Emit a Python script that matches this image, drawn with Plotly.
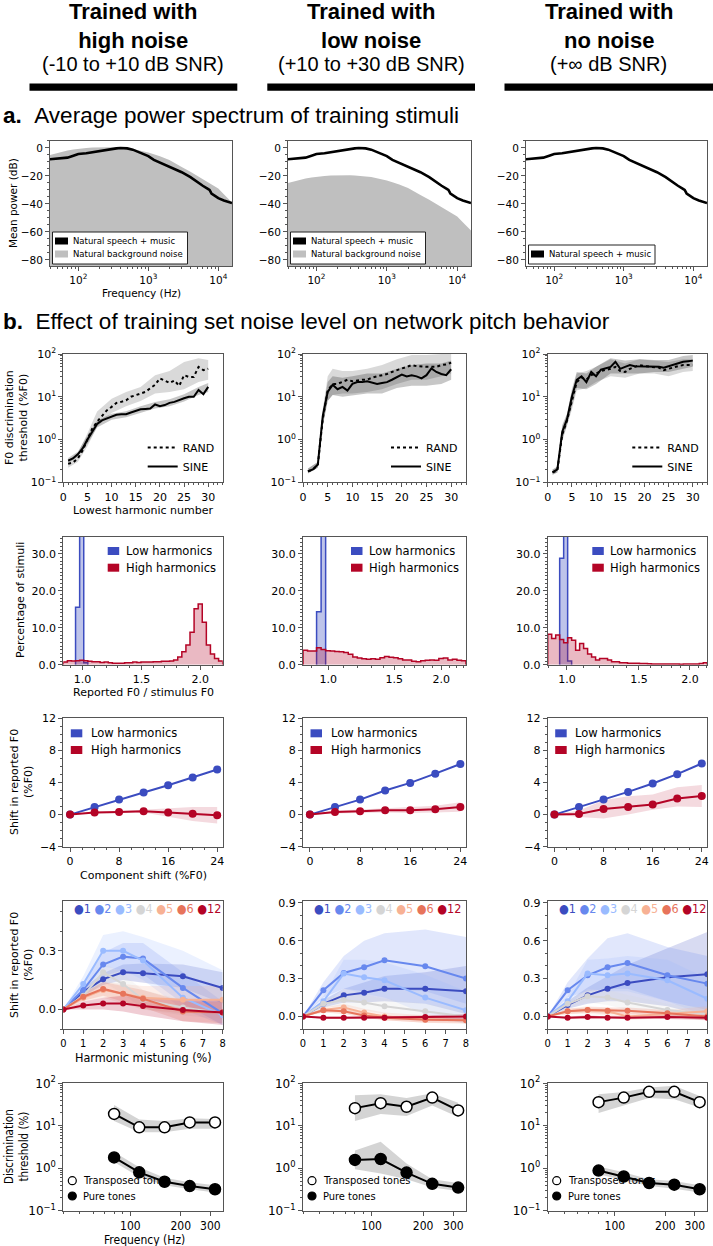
import numpy as np
import plotly.graph_objects as go

W, H = 713, 1246
SANS = "DejaVu Sans"
COND = "DejaVu Sans Condensed, Liberation Sans Narrow, DejaVu Sans"
HEAD = "Liberation Sans, Arial, Helvetica, sans-serif"
SPINE = "#555555"
BLUE = "#3b4cc0"
RED = "#b40426"

# ====================== TEXT ======================
COL_TITLE_BOLD = ["Trained with<br>high noise", "Trained with<br>low noise", "Trained with<br>no noise"]
COL_TITLE_SNR = ["(-10 to +10 dB SNR)", "(+10 to +30 dB SNR)", "(+\u221e dB SNR)"]
SECTION_A = "Average power spectrum of training stimuli"
SECTION_B = "Effect of training set noise level on network pitch behavior"

# ====================== (a) spectra ======================
SPEC_FREQ_HZ = [39, 50, 60, 70, 85, 100, 130, 160, 200, 250, 300, 350, 400, 450, 500, 600, 700, 800,
                1000, 1200, 1500, 2000, 2500, 3000, 4000, 5000, 6000, 7000, 7500, 8000, 9000, 10000,
                12000, 14000, 15700]
SPEECH_MUSIC_DB = [-8.1, -7.8, -7.4, -6.9, -5.5, -4.3, -3.8, -3.0, -2.0, -1.2, -0.7, -0.3, 0.0, 0.0, -0.3,
                   -1.2, -2.5, -3.8, -5.8, -8.5, -10.6, -13.0, -15.2, -17.3, -20.8, -24.5, -27.0, -29.0,
                   -30.0, -32.5, -34.3, -35.8, -37.5, -38.6, -39.3]
NOISE_HIGH_DB = [-5.0, -3.5, -2.5, -1.8, -1.0, -0.5, 0.0, 0.3, 0.5, 0.5, 0.5, 0.3, 0.2, 0.0, -0.3, -0.8,
                 -1.5, -2.0, -3.3, -4.5, -6.0, -8.5, -11.0, -13.5, -17.0, -20.0, -22.0, -24.0, -25.0,
                 -26.0, -27.5, -29.0, -33.0, -36.5, -39.0]
NOISE_LOW_DB = [-25.0, -23.5, -22.5, -21.8, -21.0, -20.5, -20.0, -19.7, -19.5, -19.5, -19.5, -19.7, -19.8,
                -20.0, -20.3, -20.8, -21.5, -22.0, -23.3, -24.5, -26.0, -28.5, -31.0, -33.5, -37.0, -40.0,
                -42.0, -44.0, -45.0, -46.0, -47.5, -49.0, -53.0, -56.5, -59.0]
SPEC_LEGEND = ["Natural speech + music", "Natural background noise"]

# ====================== (b1) F0 discrimination ======================
LOWEST_HARM = list(range(1, 31))
F0DL_RAND_C1 = [0.27, 0.29, 0.36, 0.55, 1.0, 1.8, 2.6, 3.6, 4.8, 5.8, 7.2, 7.6, 8.3, 10, 11, 12, 13, 15.8,
                19, 27, 24, 21, 24, 18, 32, 29, 29, 50, 42, 45]
F0DL_SINE_C1 = [0.32, 0.36, 0.45, 0.62, 1.0, 1.55, 2.3, 2.8, 3.1, 3.5, 3.8, 3.9, 3.9, 4.3, 4.6, 5.1, 5.2,
                5.3, 6.6, 6.0, 6.4, 7.2, 7.6, 8.5, 9.2, 10, 10, 14.4, 11.5, 17]
F0DL_RAND_C2 = [0.18, 0.2, 0.25, 3.0, 14, 20, 20, 22, 25, 23, 24, 25, 25, 28, 30, 32, 34, 38, 42, 46, 50,
                55, 52, 50, 50, 50, 50, 55, 57, 63]
F0DL_SINE_C2 = [0.18, 0.2, 0.26, 3.5, 13, 19, 15, 17, 14, 20, 22, 22, 23, 21, 20, 21, 22, 25, 29, 33, 30,
                32, 30, 27, 32, 46, 38, 34, 32, 44]
F0DL_RAND_C3 = [0.17, 0.19, 1.3, 2.8, 8, 22, 28, 25, 32, 35, 40, 42, 45, 50, 40, 38, 45, 50, 55, 52, 50,
                50, 48, 42, 45, 50, 52, 55, 55, 55]
F0DL_SINE_C3 = [0.17, 0.2, 1.5, 3.0, 10, 25, 30, 22, 38, 30, 43, 47, 50, 66, 45, 50, 55, 52, 52, 50, 50,
                52, 50, 48, 52, 55, 62, 66, 68, 70]
F0DL_BAND_X_C1 = [1, 3, 5, 7, 10, 13, 16, 19, 22, 25, 28, 30]
F0DL_RAND_LO_C1 = [0.22, 0.3, 0.7, 2.0, 4.2, 6.0, 8.0, 12, 13, 15, 22, 25]
F0DL_RAND_HI_C1 = [0.33, 0.48, 1.4, 4.5, 9.0, 13, 17, 32, 40, 65, 80, 72]
F0DL_SINE_LO_C1 = [0.28, 0.4, 0.8, 1.9, 2.9, 3.3, 4.2, 5.3, 6.0, 7.8, 11, 13]
F0DL_SINE_HI_C1 = [0.37, 0.52, 1.25, 2.8, 4.0, 4.6, 6.0, 7.5, 8.7, 11.5, 17, 21]
F0DL_BAND_X_C2 = [1, 3, 4, 5, 6, 8, 10, 13, 16, 19, 22, 25, 28, 30]
F0DL_RAND_LO_C2 = [0.16, 0.22, 2.0, 8, 11, 12, 12, 13, 15, 20, 25, 25, 30, 35]
F0DL_RAND_HI_C2 = [0.21, 0.3, 5.0, 30, 45, 40, 40, 45, 55, 75, 95, 95, 100, 100]
F0DL_SINE_LO_C2 = [0.16, 0.22, 2.2, 8, 11, 10, 11, 12, 12, 16, 18, 18, 20, 25]
F0DL_SINE_HI_C2 = [0.21, 0.3, 5.0, 22, 30, 28, 30, 35, 35, 45, 55, 60, 60, 70]
F0DL_BAND_X_C3 = [1, 2, 3, 4, 5, 6, 8, 10, 13, 16, 19, 22, 25, 28, 30]
F0DL_RAND_LO_C3 = [0.15, 0.17, 0.9, 2.0, 5, 14, 16, 22, 30, 28, 35, 35, 30, 38, 40]
F0DL_RAND_HI_C3 = [0.2, 0.23, 2.0, 4.0, 13, 35, 40, 50, 75, 60, 75, 70, 65, 75, 75]
F0DL_SINE_LO_C3 = [0.15, 0.17, 1.0, 2.2, 6, 16, 15, 20, 35, 35, 35, 38, 38, 45, 50]
F0DL_SINE_HI_C3 = [0.2, 0.23, 2.2, 4.0, 15, 38, 35, 50, 80, 70, 75, 72, 72, 90, 95]
F0DL_LEGEND = ["RAND", "SINE"]

# ====================== (b2) histograms ======================
HIST_EDGES_C1 = np.linspace(0.837, 2.19, 40)      # linear bins (linear axis)
HIST_EDGES_C2 = np.geomspace(0.856, 2.33, 37)     # log bins (log axis)
HIST_EDGES_C3 = np.geomspace(0.897, 2.205, 41)
HIST_HIGH_C1 = [0.7, 1.1, 1.0, 1.1, 1.2, 1.1, 0.9, 0.8, 0.8, 0.6, 0.7, 0.5, 0.4, 0.4, 0.4, 0.5, 0.5, 0.7,
                0.6, 0.7, 0.7, 0.7, 0.8, 0.8, 0.9, 0.9, 1.0, 1.25, 2.1, 3.5, 5.3, 8.8, 15.1, 16.4, 11.5,
                5.3, 2.9, 1.7, 1.0]
HIST_LOW_C1 = [0, 0, 0, 15.5, 84.0, 0.5] + [0] * 33
HIST_HIGH_C2 = [3.9, 3.7, 3.7, 4.6, 4.1, 3.8, 3.7, 3.6, 3.5, 3.3, 2.8, 2.1, 1.8, 1.6, 1.5, 1.6, 1.5, 1.9,
                2.2, 2.0, 1.9, 1.6, 1.3, 1.25, 0.9, 0.8, 1.1, 1.2, 1.3, 1.2, 1.7, 1.8, 1.3, 1.5, 1.2, 1.1]
HIST_LOW_C2 = [0, 0, 0, 14.3, 85.0] + [0] * 31
HIST_HIGH_C3 = [8.2, 7.1, 8.0, 6.8, 5.9, 7.3, 6.6, 3.9, 5.7, 4.4, 2.9, 2.1, 1.25, 1.7, 1.7, 1.25, 0.8, 0.8,
                0.5, 0.5, 0.4, 0.4, 0.4, 0.35, 0.3, 0.25, 0.2, 0.2, 0.2, 0.2, 0.2, 0.2, 0.2, 0.15, 0.2,
                0.2, 0.2, 0.2, 0.3, 0.5]
HIST_LOW_C3 = [0, 0, 0, 28.8, 70.0, 1.0] + [0] * 34
HARM_LEGEND = ["Low harmonics", "High harmonics"]

# ====================== (b3) component shift ======================
COMP_SHIFT = [0, 4, 8, 12, 16, 20, 24]
SHIFT_LOW_C1 = [0, 0.95, 1.87, 2.75, 3.66, 4.62, 5.62]
SHIFT_HIGH_C1 = [0, 0.25, 0.33, 0.42, 0.25, 0.1, -0.08]
SHIFT_HIGH_LO_C1 = [0, 0.15, 0.2, 0.25, -0.3, -0.8, -1.1]
SHIFT_HIGH_HI_C1 = [0, 0.35, 0.45, 0.6, 0.75, 0.95, 0.95]
SHIFT_LOW_C2 = [0, 0.95, 1.87, 3.0, 3.95, 5.1, 6.3]
SHIFT_HIGH_C2 = [0, 0.33, 0.42, 0.54, 0.54, 0.67, 0.95]
SHIFT_HIGH_LO_C2 = [0, 0.15, 0.2, 0.25, 0.2, 0.25, 0.35]
SHIFT_HIGH_HI_C2 = [0, 0.5, 0.65, 0.8, 0.9, 1.1, 1.55]
SHIFT_LOW_C3 = [0, 0.95, 1.87, 2.83, 3.87, 5.04, 6.37]
SHIFT_HIGH_C3 = [0, 0.08, 0.7, 0.95, 1.25, 2.0, 2.33]
SHIFT_HIGH_LO_C3 = [0, -0.3, -0.5, 0.0, 0.6, 1.0, 0.95]
SHIFT_HIGH_HI_C3 = [0, 0.5, 1.8, 2.3, 2.5, 3.4, 3.7]

# ====================== (b4) harmonic mistuning ======================
MIST_PCT = [0, 1, 2, 3, 4, 6, 8]
HARM_IDS = [1, 2, 3, 4, 5, 6, 12]
HARM_COLORS = ["#3b4cc0", "#6788ee", "#9abbff", "#d5d5d5", "#f7b194", "#e7745b", "#b40426"]
MIST_MEAN_C1 = {1: [0, 0.09, 0.155, 0.19, 0.185, 0.17, 0.11], 2: [0, 0.10, 0.23, 0.27, 0.26, 0.11, -0.02],
                3: [0, 0.13, 0.30, 0.30, 0.25, 0.06, -0.03], 4: [0, 0.07, 0.19, 0.13, 0.05, 0.01, -0.02],
                5: [0, 0.06, 0.10, 0.08, 0.06, 0.05, 0.05], 6: [0, 0.065, 0.105, 0.08, 0.055, -0.01, -0.015],
                12: [0, 0.02, 0.03, 0.03, 0.017, -0.003, -0.015]}
MIST_LO_C1 = {1: [0, 0.07, 0.125, 0.15, 0.135, 0.11, 0.03], 2: [0, 0.07, 0.17, 0.2, 0.18, 0.03, -0.08],
              3: [0, 0.09, 0.22, 0.2, 0.15, 0.0, -0.08], 4: [0, 0.05, 0.14, 0.08, 0.0, -0.03, -0.05],
              5: [0, 0.04, 0.06, 0.03, 0.0, -0.02, -0.02], 6: [0, 0.045, 0.07, 0.04, 0.01, -0.06, -0.07],
              12: [0, 0.0, 0.0, -0.01, -0.03, -0.06, -0.08]}
MIST_HI_C1 = {1: [0, 0.11, 0.185, 0.23, 0.235, 0.23, 0.19], 2: [0, 0.13, 0.29, 0.34, 0.34, 0.19, 0.04],
              3: [0, 0.17, 0.38, 0.4, 0.37, 0.3, 0.2], 4: [0, 0.09, 0.24, 0.18, 0.1, 0.05, 0.01],
              5: [0, 0.08, 0.14, 0.13, 0.12, 0.12, 0.12], 6: [0, 0.085, 0.14, 0.12, 0.1, 0.04, 0.04],
              12: [0, 0.04, 0.06, 0.07, 0.06, 0.05, 0.05]}
MIST_MEAN_C2 = {1: [0, 0.10, 0.167, 0.188, 0.22, 0.22, 0.20], 2: [0, 0.207, 0.345, 0.39, 0.446, 0.398, 0.30],
                3: [0, 0.12, 0.34, 0.31, 0.287, 0.149, 0.048], 4: [0, 0.1, 0.13, 0.11, 0.08, 0.04, 0.0],
                5: [0, 0.05, 0.07, 0.03, 0.0, -0.02, -0.03], 6: [0, 0.048, 0.04, 0.008, -0.01, -0.027, -0.03],
                12: [0, -0.01, -0.01, -0.01, -0.01, -0.005, 0.0]}
MIST_LO_C2 = {1: [0, 0.07, 0.11, 0.11, 0.12, 0.1, 0.02], 2: [0, 0.15, 0.22, 0.2, 0.22, 0.2, 0.1],
              3: [0, 0.08, 0.22, 0.18, 0.15, 0.02, -0.06], 4: [0, 0.07, 0.08, 0.05, 0.02, -0.02, -0.05],
              5: [0, 0.03, 0.04, 0.0, -0.03, -0.05, -0.06], 6: [0, 0.03, 0.02, -0.01, -0.03, -0.05, -0.05],
              12: [0, -0.02, -0.02, -0.02, -0.02, -0.02, -0.02]}
MIST_HI_C2 = {1: [0, 0.13, 0.22, 0.27, 0.32, 0.35, 0.40], 2: [0, 0.27, 0.48, 0.6, 0.66, 0.69, 0.63],
              3: [0, 0.16, 0.45, 0.45, 0.43, 0.33, 0.2], 4: [0, 0.13, 0.18, 0.17, 0.14, 0.1, 0.06],
              5: [0, 0.07, 0.1, 0.06, 0.03, 0.01, 0.0], 6: [0, 0.065, 0.06, 0.03, 0.01, -0.005, -0.01],
              12: [0, 0.0, 0.0, 0.0, 0.0, 0.01, 0.02]}
MIST_MEAN_C3 = {1: [0, 0.09, 0.167, 0.22, 0.265, 0.31, 0.334], 2: [0, 0.207, 0.326, 0.39, 0.424, 0.326, 0.26],
                3: [0, 0.12, 0.34, 0.326, 0.34, 0.287, 0.14], 4: [0, 0.1, 0.16, 0.15, 0.11, 0.05, 0.02],
                5: [0, 0.04, 0.05, 0.04, 0.0, 0.02, 0.04], 6: [0, 0.04, 0.05, 0.045, 0.045, 0.025, 0.0],
                12: [0, -0.01, -0.005, -0.01, -0.01, -0.005, -0.01]}
MIST_LO_C3 = {1: [0, 0.06, 0.1, 0.12, 0.12, 0.08, 0.0], 2: [0, 0.15, 0.2, 0.22, 0.22, 0.12, 0.05],
              3: [0, 0.08, 0.22, 0.2, 0.2, 0.12, 0.0], 4: [0, 0.07, 0.11, 0.09, 0.05, 0.0, -0.03],
              5: [0, 0.02, 0.02, 0.01, -0.03, -0.01, 0.0], 6: [0, 0.02, 0.03, 0.02, 0.02, 0.0, -0.03],
              12: [0, -0.02, -0.02, -0.02, -0.02, -0.02, -0.03]}
MIST_HI_C3 = {1: [0, 0.12, 0.23, 0.32, 0.41, 0.54, 0.67], 2: [0, 0.27, 0.46, 0.62, 0.66, 0.55, 0.48],
              3: [0, 0.16, 0.45, 0.46, 0.48, 0.45, 0.3], 4: [0, 0.13, 0.21, 0.21, 0.17, 0.1, 0.07],
              5: [0, 0.06, 0.08, 0.07, 0.03, 0.05, 0.08], 6: [0, 0.06, 0.07, 0.07, 0.07, 0.05, 0.03],
              12: [0, 0.0, 0.01, 0.0, 0.0, 0.01, 0.01]}

# ====================== (b5) pure / transposed tones ======================
TONE_FREQ_HZ = [80, 113, 160, 226, 320]
TRANSP_C1 = [19, 9.2, 9.2, 12, 12]
TRANSP_LO_C1 = [13, 7, 7, 8.5, 8.5]
TRANSP_HI_C1 = [31, 14, 13, 15, 14.5]
PURE_C1 = [1.8, 0.8, 0.48, 0.38, 0.32]
PURE_LO_C1 = [1.4, 0.62, 0.4, 0.32, 0.27]
PURE_HI_C1 = [2.4, 1.05, 0.6, 0.47, 0.4]
TRANSP_C2 = [26, 34, 28, 46, 23]
TRANSP_LO_C2 = [13, 19, 17, 30, 16]
TRANSP_HI_C2 = [52, 55, 45, 58, 35]
PURE_C2 = [1.57, 1.65, 0.79, 0.43, 0.35]
PURE_LO_C2 = [0.95, 0.75, 0.55, 0.35, 0.29]
PURE_HI_C2 = [2.6, 4.2, 1.3, 0.55, 0.45]
TRANSP_C3 = [36, 46, 63, 63, 36]
TRANSP_LO_C3 = [20, 30, 45, 42, 27]
TRANSP_HI_C3 = [55, 62, 80, 88, 50]
PURE_C3 = [0.88, 0.64, 0.45, 0.41, 0.32]
PURE_LO_C3 = [0.72, 0.52, 0.38, 0.33, 0.27]
PURE_HI_C3 = [1.1, 0.8, 0.55, 0.5, 0.4]
TONE_LEGEND = ["Transposed tones", "Pure tones"]

# ====================== GEOMETRY (pixels) ======================
COLS_A = [(50, 232), (288, 471), (526, 707)]
COLS_B = [(63.3, 222.7), (303, 466), (547.7, 707.3)]
ROWS = [(140.7, 266), (354, 482.3), (536.7, 664.7), (718.3, 846.7), (900.7, 1029), (1083.3, 1210.7)]
BARS_X = [(29.5, 237.3), (267.3, 475), (504.5, 713)]

LOG_MINOR = [m * 10.0 ** e for e in range(-2, 5) for m in range(2, 10)]

fig = go.Figure()
layout = dict(width=W, height=H, autosize=False, margin=dict(l=0, r=0, t=0, b=0, pad=0),
              paper_bgcolor="white", plot_bgcolor="white", showlegend=True, annotations=[], shapes=[],
              font=dict(family=SANS, size=11, color="black"))


def rgba(hx, a):
    hx = hx.lstrip("#")
    return f"rgba({int(hx[0:2], 16)},{int(hx[2:4], 16)},{int(hx[4:6], 16)},{a})"


def aid(r, c):
    return r * 3 + c + 1


def xa(n):
    return "x" if n == 1 else f"x{n}"


def ya(n):
    return "y" if n == 1 else f"y{n}"


def lg(k):
    return "legend" if k == 1 else f"legend{k}"


def add(n, **kw):
    kw.setdefault("showlegend", False)
    kw.setdefault("hoverinfo", "skip")
    fig.add_trace(go.Scatter(xaxis=xa(n), yaxis=ya(n), **kw))


def band(n, x, lo, hi, color):
    add(n, x=list(x) + list(x)[::-1], y=list(hi) + list(lo)[::-1], mode="lines", fill="toself",
        fillcolor=color, line=dict(width=0))


def minor(vals=None, dtick=None):
    d = dict(ticks="outside", ticklen=2, tickwidth=1, tickcolor=SPINE)
    if vals is not None:
        d.update(tickmode="array", tickvals=vals)
    else:
        d.update(dtick=dtick)
    return d


def set_axes(r, c, xcfg, ycfg, xfont=SANS, yfont=SANS, fsize=11):
    n = aid(r, c)
    x0, x1 = (COLS_A if r == 0 else COLS_B)[c]
    y0, y1 = ROWS[r]
    base = dict(showline=True, linecolor=SPINE, linewidth=1, mirror=True, ticks="outside", ticklen=4,
                tickwidth=1, tickcolor=SPINE, showgrid=False, zeroline=False, automargin=False)
    xd = dict(base, domain=[x0 / W, x1 / W], anchor=ya(n),
              tickfont=dict(family=xfont, size=fsize, color="black"), **xcfg)
    yd = dict(base, domain=[1 - y1 / H, 1 - y0 / H], anchor=xa(n),
              tickfont=dict(family=yfont, size=fsize, color="black"), **ycfg)
    layout["xaxis" if n == 1 else f"xaxis{n}"] = xd
    layout["yaxis" if n == 1 else f"yaxis{n}"] = yd


def ann(text, x, y, size, family=SANS, xanchor="center", yanchor="middle", angle=0):
    layout["annotations"].append(dict(text=text, x=x / W, y=1 - y / H, xref="paper", yref="paper",
                                      showarrow=False, font=dict(family=family, size=size, color="black"),
                                      xanchor=xanchor, yanchor=yanchor, textangle=angle))


def shape(kind, x0, y0, x1, y1, fill, line_color=None, lw=0):
    layout["shapes"].append(dict(type=kind, xref="paper", yref="paper", x0=x0 / W, x1=x1 / W,
                                 y0=1 - y1 / H, y1=1 - y0 / H, fillcolor=fill, layer="above",
                                 line=dict(width=lw, color=line_color or fill)))


def legend_cfg(k, x, y, xanchor, yanchor, size, family=SANS):
    layout[lg(k)] = dict(x=x / W, y=1 - y / H, xref="paper", yref="paper", xanchor=xanchor,
                         yanchor=yanchor, bgcolor="rgba(0,0,0,0)", borderwidth=0,
                         font=dict(family=family, size=size, color="black"), itemwidth=30,
                         tracegroupgap=0, traceorder="normal")


def sup(e):
    return "10<sup>" + str(e).replace("-", "\u2212") + "</sup>"


# ====================== HEADER ======================
for c in range(3):
    cx = (BARS_X[c][0] + BARS_X[c][1]) / 2
    ann("<b>" + COL_TITLE_BOLD[c].replace("<br>", "</b><br><b>") + "</b>", cx, 25.5, 22, HEAD)
    ann(COL_TITLE_SNR[c], cx, 64.5, 20, HEAD)
    shape("rect", BARS_X[c][0], 83.5, BARS_X[c][1], 90.7, "black")
ann("<b>a.</b>\u00a0\u00a0" + SECTION_A, 1, 115, 22.5, HEAD, xanchor="left")
ann("<b>b.</b>\u00a0\u00a0" + SECTION_B, 1, 322, 22.5, HEAD, xanchor="left")

# ====================== ROW a ======================
noise_by_col = [NOISE_HIGH_DB, NOISE_LOW_DB, None]
for c in range(3):
    n = aid(0, c)
    nz = noise_by_col[c]
    if nz is not None:
        add(n, x=SPEC_FREQ_HZ + SPEC_FREQ_HZ[::-1], y=nz + [-100] * len(SPEC_FREQ_HZ), mode="lines",
            fill="toself", fillcolor="#bfbfbf", line=dict(width=0))
    add(n, x=SPEC_FREQ_HZ, y=SPEECH_MUSIC_DB, mode="lines", line=dict(color="black", width=2.6))
    set_axes(0, c,
             dict(type="log", range=[np.log10(39.4), np.log10(15700)], tickmode="array",
                  tickvals=[100, 1000, 10000], ticktext=[sup(2), sup(3), sup(4)], minor=minor(LOG_MINOR)),
             dict(range=[-84.3, 5.2], tickmode="array", tickvals=[0, -20, -40, -60, -80],
                  ticktext=["0", "\u221220", "\u221240", "\u221260", "\u221280"], minor=minor(dtick=5)),
             fsize=10.5)
    # framed legend (matplotlib style)
    x0, x1 = COLS_A[c]
    items = [(SPEC_LEGEND[0], "black")] + ([(SPEC_LEGEND[1], "#bfbfbf")] if nz is not None else [])
    top = 264 - (6 + 13 * len(items))
    shape("rect", x0 + 2.5, top, x0 + (137.5 if nz is not None else 129), 264, "white", "#222222", 1)
    for i, (label, col) in enumerate(items):
        cy = top + 9 + 13 * i
        shape("rect", x0 + 5, cy - 3.5, x0 + 18, cy + 3.5, col)
        ann(label, x0 + 20.5, cy, 8.5, xanchor="left")
ann("Frequency (Hz)", 141, 293, 10.5)
ann("Mean power (dB)", 13, 203, 10.5, angle=-90)

# ====================== ROW b1 ======================
b1 = [(F0DL_RAND_C1, F0DL_SINE_C1, F0DL_BAND_X_C1, F0DL_RAND_LO_C1, F0DL_RAND_HI_C1, F0DL_SINE_LO_C1, F0DL_SINE_HI_C1),
      (F0DL_RAND_C2, F0DL_SINE_C2, F0DL_BAND_X_C2, F0DL_RAND_LO_C2, F0DL_RAND_HI_C2, F0DL_SINE_LO_C2, F0DL_SINE_HI_C2),
      (F0DL_RAND_C3, F0DL_SINE_C3, F0DL_BAND_X_C3, F0DL_RAND_LO_C3, F0DL_RAND_HI_C3, F0DL_SINE_LO_C3, F0DL_SINE_HI_C3)]
for c in range(3):
    n = aid(1, c)
    k = 1 + c
    rand, sine, bx, rlo, rhi, slo, shi = b1[c]
    band(n, bx, rlo, rhi, "rgba(0,0,0,0.15)")
    band(n, bx, slo, shi, "rgba(0,0,0,0.22)")
    add(n, x=LOWEST_HARM, y=rand, mode="lines", line=dict(color="black", width=2, dash="dot"),
        name=F0DL_LEGEND[0], legend=lg(k), showlegend=True)
    add(n, x=LOWEST_HARM, y=sine, mode="lines", line=dict(color="black", width=2),
        name=F0DL_LEGEND[1], legend=lg(k), showlegend=True)
    set_axes(1, c,
             dict(range=[0, 33], tickmode="array", tickvals=[0, 5, 10, 15, 20, 25, 30], minor=minor(dtick=1)),
             dict(type="log", range=[-1, 2], tickmode="array", tickvals=[0.1, 1, 10, 100],
                  ticktext=[sup(-1), sup(0), sup(1), sup(2)], minor=minor(LOG_MINOR)))
    x0, x1 = COLS_B[c]
    legend_cfg(k, x1 - 3, 481, "right", "bottom", 11)
ann("Lowest harmonic number", 143, 510.5, 11)
ann("F0 discrimination<br>threshold (%F0)", 16, 418, 11, angle=-90)

# ====================== ROW b2 ======================
b2 = [(HIST_EDGES_C1, HIST_LOW_C1, HIST_HIGH_C1, "linear", (0.837, 2.19)),
      (HIST_EDGES_C2, HIST_LOW_C2, HIST_HIGH_C2, "log", (0.856, 2.33)),
      (HIST_EDGES_C3, HIST_LOW_C3, HIST_HIGH_C3, "log", (0.897, 2.205))]


def step_xy(edges, vals):
    nzi = [i for i, v in enumerate(vals) if v > 0]
    i0, i1 = nzi[0], nzi[-1]
    e = list(edges[i0:i1 + 2])
    v = list(vals[i0:i1 + 1])
    return [e[0]] + e[:-1] + [e[-1], e[-1]], [0] + v + [v[-1], 0]


for c in range(3):
    n = aid(2, c)
    edges, low, high, typ, rng = b2[c]
    xs, ys = step_xy(edges, low)
    add(n, x=xs, y=ys, mode="lines", line=dict(color=BLUE, width=1.5, shape="hv"), fill="tozeroy",
        fillcolor=rgba(BLUE, 0.33))
    xs, ys = step_xy(edges, high)
    add(n, x=xs, y=ys, mode="lines", line=dict(color=RED, width=1.5, shape="hv"), fill="tozeroy",
        fillcolor=rgba(RED, 0.28))
    xr = list(rng) if typ == "linear" else [np.log10(rng[0]), np.log10(rng[1])]
    set_axes(2, c,
             dict(type=typ, range=xr, tickmode="array", tickvals=[1.0, 1.5, 2.0], ticktext=["1.0", "1.5", "2.0"],
                  minor=minor([0.9, 1.1, 1.2, 1.3, 1.4, 1.6, 1.7, 1.8, 1.9, 2.1, 2.2, 2.3])),
             dict(range=[0, 34.6], tickmode="array", tickvals=[0, 10, 20, 30],
                  ticktext=["0.0", "10.0", "20.0", "30.0"], minor=minor(dtick=1)))
    x0, x1 = COLS_B[c]
    y0 = ROWS[2][0]
    for i, (label, col) in enumerate(zip(HARM_LEGEND, [BLUE, RED])):
        cy = y0 + 14.3 + 16.7 * i
        shape("rect", x1 - 115, cy - 4, x1 - 103.5, cy + 4, col)
        ann(label, x1 - 99, cy, 11.5, xanchor="left")
ann("Reported F0 / stimulus F0", 143, 692.5, 11)
ann("Percentage of stimuli", 20, 600, 11, angle=-90)

# ====================== ROW b3 ======================
b3 = [(SHIFT_LOW_C1, SHIFT_HIGH_C1, SHIFT_HIGH_LO_C1, SHIFT_HIGH_HI_C1),
      (SHIFT_LOW_C2, SHIFT_HIGH_C2, SHIFT_HIGH_LO_C2, SHIFT_HIGH_HI_C2),
      (SHIFT_LOW_C3, SHIFT_HIGH_C3, SHIFT_HIGH_LO_C3, SHIFT_HIGH_HI_C3)]
for c in range(3):
    n = aid(3, c)
    low, high, hlo, hhi = b3[c]
    band(n, COMP_SHIFT, hlo, hhi, rgba(RED, 0.15))
    add(n, x=COMP_SHIFT, y=low, mode="lines+markers", line=dict(color=BLUE, width=2),
        marker=dict(size=8, color=BLUE))
    add(n, x=COMP_SHIFT, y=high, mode="lines+markers", line=dict(color=RED, width=2),
        marker=dict(size=8, color=RED))
    set_axes(3, c,
             dict(range=[-1.1, 24.9], tickmode="array", tickvals=[0, 8, 16, 24], minor=minor(dtick=2)),
             dict(range=[-4, 12], tickmode="array", tickvals=[-4, 0, 4, 8, 12],
                  ticktext=["\u22124", "0", "4", "8", "12"], minor=minor(dtick=1)))
    x0, x1 = COLS_B[c]
    y0 = ROWS[3][0]
    for i, (label, col) in enumerate(zip(HARM_LEGEND, [BLUE, RED])):
        cy = y0 + 15 + 16.7 * i
        shape("rect", x0 + 7.5, cy - 4, x0 + 19, cy + 4, col)
        ann(label, x0 + 25.5, cy, 11.5, xanchor="left")
ann("Component shift (%F0)", 143, 875, 11)
ann("Shift in reported F0<br>(%F0)", 21, 782, 11, angle=-90)

# ====================== ROW b4 ======================
b4 = [(MIST_MEAN_C1, MIST_LO_C1, MIST_HI_C1, [-0.1, 0.556], [0, 0.3], ["0.0", "0.3"]),
      (MIST_MEAN_C2, MIST_LO_C2, MIST_HI_C2, [-0.1, 0.918], [0, 0.3, 0.6, 0.9], ["0.0", "0.3", "0.6", "0.9"]),
      (MIST_MEAN_C3, MIST_LO_C3, MIST_HI_C3, [-0.1, 0.918], [0, 0.3, 0.6, 0.9], ["0.0", "0.3", "0.6", "0.9"])]
for c in range(3):
    n = aid(4, c)
    mean, lo, hi, yr, tv, tt = b4[c]
    for h, col in zip(HARM_IDS, HARM_COLORS):
        band(n, MIST_PCT, lo[h], hi[h], rgba(col, 0.2))
    for h, col in zip(HARM_IDS, HARM_COLORS):
        add(n, x=MIST_PCT, y=mean[h], mode="lines+markers", line=dict(color=col, width=2),
            marker=dict(size=6, color=col))
    set_axes(4, c,
             dict(range=[0, 8], tickmode="array", tickvals=list(range(9))),
             dict(range=yr, tickmode="array", tickvals=tv, ticktext=tt, minor=minor(dtick=0.1)),
             xfont=COND, yfont=SANS, fsize=11)
    x0, x1 = COLS_B[c]
    txt = " ".join(f"<span style='color:{col}'>\u25cf{h}</span>" for h, col in zip(HARM_IDS, HARM_COLORS))
    ann(txt, x0 + 9, 908, 12.5, COND, xanchor="left")
ann("Harmonic mistuning (%)", 143, 1057.5, 12.5, COND)
ann("Shift in reported F0<br>(%F0)", 21, 965, 11, angle=-90)

# ====================== ROW b5 ======================
b5 = [(TRANSP_C1, TRANSP_LO_C1, TRANSP_HI_C1, PURE_C1, PURE_LO_C1, PURE_HI_C1),
      (TRANSP_C2, TRANSP_LO_C2, TRANSP_HI_C2, PURE_C2, PURE_LO_C2, PURE_HI_C2),
      (TRANSP_C3, TRANSP_LO_C3, TRANSP_HI_C3, PURE_C3, PURE_LO_C3, PURE_HI_C3)]
for c in range(3):
    n = aid(5, c)
    tr, tlo, thi, pu, plo, phi = b5[c]
    band(n, TONE_FREQ_HZ, tlo, thi, "rgba(0,0,0,0.17)")
    band(n, TONE_FREQ_HZ, plo, phi, "rgba(0,0,0,0.17)")
    add(n, x=TONE_FREQ_HZ, y=tr, mode="lines+markers", line=dict(color="black", width=2),
        marker=dict(size=11, color="white", line=dict(color="black", width=1.5)))
    add(n, x=TONE_FREQ_HZ, y=pu, mode="lines+markers", line=dict(color="black", width=2),
        marker=dict(size=11, color="black", line=dict(color="black", width=1.5)))
    set_axes(5, c,
             dict(type="log", range=[1.6, 2.551], tickmode="array", tickvals=[100, 200, 300],
                  ticktext=["100", "200", "300"], minor=minor([40, 50, 60, 70, 80, 90])),
             dict(type="log", range=[-1, 2], tickmode="array", tickvals=[0.1, 1, 10, 100],
                  ticktext=[sup(-1), sup(0), sup(1), sup(2)], minor=minor(LOG_MINOR)),
             xfont=COND, yfont=SANS, fsize=12)
    x0, x1 = COLS_B[c]
    y1 = ROWS[5][1]
    for i, (label, fillc) in enumerate(zip(TONE_LEGEND, ["white", "black"])):
        cy = y1 - 30 + 15.3 * i
        shape("circle", x0 + 5, cy - 4, x0 + 13, cy + 4, fillc, "black", 1.2)
        ann(label, x0 + 18, cy, 11, COND, xanchor="left")
ann("Frequency (Hz)", 144, 1240, 12, COND)
ann("Discrimination<br>threshold (%)", 16, 1147, 11.5, COND, angle=-90)

fig.update_layout(**layout)
fig.write_html("out.html", config={"displayModeBar": False, "staticPlot": True},
               post_script="document.body.style.margin='0px';document.body.style.padding='0px';"
                           "document.body.style.overflow='hidden';")
